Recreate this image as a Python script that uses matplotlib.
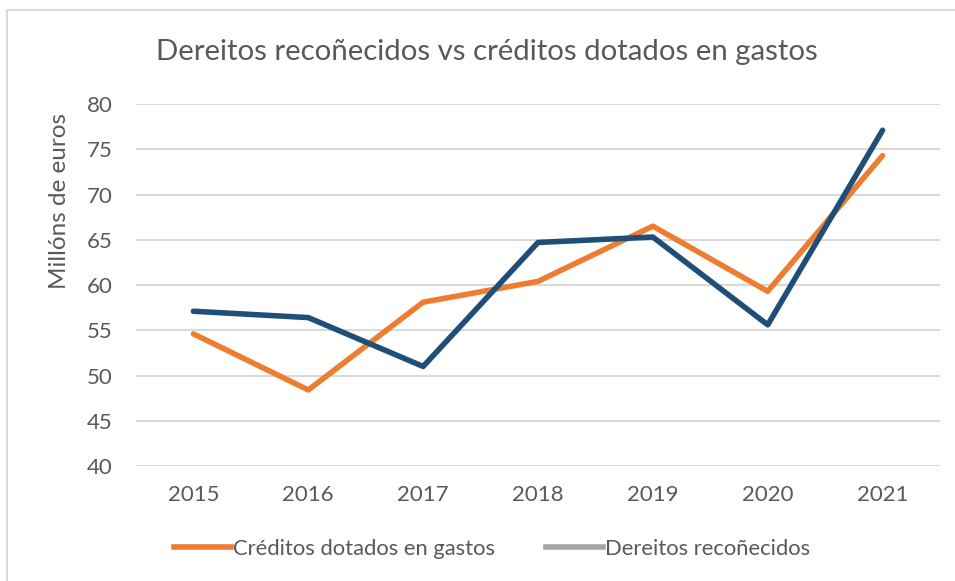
import matplotlib
matplotlib.use("Agg")
import matplotlib.pyplot as plt
from matplotlib.lines import Line2D
from matplotlib.patches import Rectangle

years = ["2015", "2016", "2017", "2018", "2019", "2020", "2021"]
creditos = [54.6, 48.4, 58.1, 60.4, 66.5, 59.3, 74.3]
dereitos = [57.1, 56.4, 51.0, 64.7, 65.3, 55.6, 77.1]
yticks = [40, 45, 50, 55, 60, 65, 70, 75, 80]

title = "Dereitos recoñecidos vs créditos dotados en gastos"
ylabel = "Millóns de euros"
label_cred = "Créditos dotados en gastos"
label_der = "Dereitos recoñecidos"

txt = "#595959"
plt.rcParams['font.family'] = ['Lato', 'DejaVu Sans']

fig = plt.figure(figsize=(9.55, 5.81), dpi=100)
fig.patches.append(Rectangle((7/955, -0.1), 1.2, 1 - 10/581 + 0.1, transform=fig.transFigure,
                             fill=False, edgecolor="#D9D9D9", lw=1.5))
ax = fig.add_axes([136/955, 1 - 466/581, (940 - 136)/955, (466 - 104)/581])

x = list(range(len(years)))
ax.plot(x, creditos, color="#ED7D31", lw=4, solid_capstyle="round", solid_joinstyle="round", zorder=3)
ax.plot(x, dereitos, color="#1F4E79", lw=4, solid_capstyle="round", solid_joinstyle="round", zorder=4)

ax.set_xlim(-0.5, len(years) - 0.5)
ax.set_ylim(40, 80)
ax.set_yticks(yticks)
ax.set_xticks(x)
ax.set_xticklabels(years)
ax.grid(axis="y", color="#D9D9D9", lw=1.5)
ax.set_axisbelow(True)
for s in ax.spines.values():
    s.set_visible(False)
ax.tick_params(axis="both", length=0, labelsize=16, colors=txt)
ax.tick_params(axis="y", pad=17)
ax.tick_params(axis="x", pad=14)

fig.text(60/955, 1 - 201/581, ylabel, rotation=90, ha="center", va="center",
         fontsize=17.5, color=txt)
fig.text(487/955, 1 - 52/581, title, ha="center", va="center", fontsize=21.2, color=txt)

handles = [Line2D([0], [0], color="#ED7D31", lw=4),
           Line2D([0], [0], color="#A5A5A5", lw=4)]
fig.legend(handles, [label_cred, label_der], loc="center", bbox_to_anchor=(492/955, 1 - 549/581),
           ncol=2, frameon=False, fontsize=15.8, labelcolor=txt, handlelength=2.6,
           handletextpad=0.1, columnspacing=2.3)

fig.savefig("out.png", dpi=100)
